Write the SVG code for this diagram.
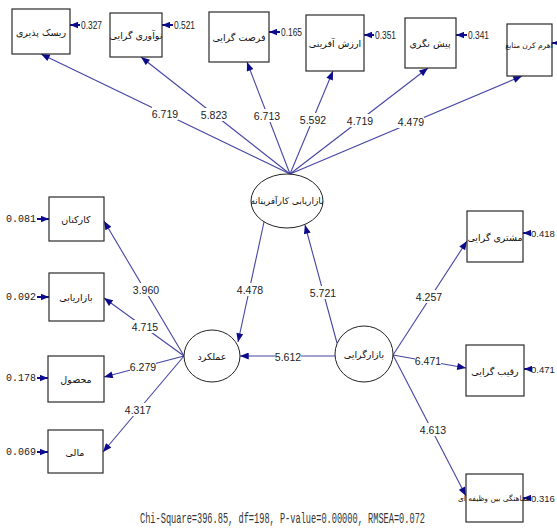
<svg xmlns="http://www.w3.org/2000/svg" width="557" height="531" viewBox="0 0 557 531">
<defs>
  <marker id="head" viewBox="0 0 10 8" refX="10" refY="4" markerWidth="10" markerHeight="7" markerUnits="userSpaceOnUse" orient="auto">
    <path d="M0,0 L10,4 L0,8 z" fill="#0b0b8c"/>
  </marker>
  <marker id="ehead" viewBox="0 0 10 8" refX="10" refY="4" markerWidth="8" markerHeight="7" markerUnits="userSpaceOnUse" orient="auto">
    <path d="M0,0 L10,4 L0,8 z" fill="#0b0b8c"/>
  </marker>
</defs>
<style>
  .box{fill:#fff;stroke:#2a2a2a;stroke-width:1.2}
  .lat{fill:#fff;stroke:#222;stroke-width:1}
  .fa{font-family:"DejaVu Sans",sans-serif;font-size:9.5px;fill:#111;text-anchor:middle;dominant-baseline:central}
  .fs{font-size:7.5px}
  .fm{font-size:9px}
  .path{stroke:#4444a4;stroke-width:1.1;fill:none;marker-end:url(#head)}
  .err{stroke:#0b0b8c;stroke-width:2;fill:none;marker-end:url(#ehead)}
  .coef{font-family:"Liberation Sans Narrow","Liberation Sans",sans-serif;font-size:10.5px;fill:#222;text-anchor:middle;dominant-baseline:central}
  .bg{fill:#fff}
  .ev{font-family:"Liberation Mono",monospace;font-size:10px;fill:#222;dominant-baseline:central}
  .evn{font-family:"Liberation Sans",sans-serif;font-size:10.5px;fill:#222;dominant-baseline:central}
  .evs{font-family:"Liberation Sans",sans-serif;font-size:9.5px;fill:#222;dominant-baseline:central}
  .evr{text-anchor:end}
  .fit{font-family:"Liberation Mono",monospace;font-size:15px;fill:#333}
</style>
<rect width="557" height="531" fill="#fff"/>

<!-- paths, error arrows and coefficient labels -->
<g id="connectors">
  <!-- entrepreneurial marketing -> its indicators -->
  <path class="path" d="M290,174 L41,54"/>
  <path class="path" d="M290,174 L141,57"/>
  <path class="path" d="M290,174 L247,62"/>
  <path class="path" d="M290,174 L333,71"/>
  <path class="path" d="M290,174 L428,68"/>
  <path class="path" d="M290,174 L522,76"/>
  <!-- performance -> its indicators -->
  <path class="path" d="M184,356 L104,221"/>
  <path class="path" d="M184,356 L104,298"/>
  <path class="path" d="M184,356 L104,377"/>
  <path class="path" d="M184,356 L103,452"/>
  <!-- structural paths -->
  <path class="path" d="M264,222 L238,342"/>
  <path class="path" d="M337,343 L305,225"/>
  <path class="path" d="M335,356 L240,356"/>
  <!-- market orientation -> its indicators -->
  <path class="path" d="M393,355 L467,241"/>
  <path class="path" d="M393,355 L466,368"/>
  <path class="path" d="M393,355 L466,496"/>

  <!-- error variances -->
  <path class="err" d="M80,25 L70,25"/>
  <path class="err" d="M173,25 L162,25"/>
  <path class="err" d="M280,32 L269,32"/>
  <path class="err" d="M374,35 L364,35"/>
  <path class="err" d="M467,35 L456,35"/>
  <path class="err" d="M562,43 L552,43"/>
  <path class="err" d="M37,219 L49,219"/>
  <path class="err" d="M37,297 L49,297"/>
  <path class="err" d="M37,378 L48,378"/>
  <path class="err" d="M37,452 L48,452"/>
  <path class="err" d="M530,233 L523,233"/>
  <path class="err" d="M530,369 L524,369"/>
  <path class="err" d="M530,498 L523,498"/>

  <text class="evn" x="81" y="25" textLength="21" lengthAdjust="spacingAndGlyphs">0.327</text>
  <text class="evn" x="174" y="25" textLength="21" lengthAdjust="spacingAndGlyphs">0.521</text>
  <text class="evn" x="281" y="32" textLength="21" lengthAdjust="spacingAndGlyphs">0.165</text>
  <text class="evn" x="375" y="35" textLength="21" lengthAdjust="spacingAndGlyphs">0.351</text>
  <text class="evn" x="468" y="35" textLength="21" lengthAdjust="spacingAndGlyphs">0.341</text>
  <text class="ev evr" x="36" y="219">0.081</text>
  <text class="ev evr" x="36" y="297">0.092</text>
  <text class="ev evr" x="36" y="378">0.178</text>
  <text class="ev evr" x="36" y="452">0.069</text>
  <text class="evs" x="531" y="233">0.418</text>
  <text class="evs" x="531" y="369">0.471</text>
  <text class="evs" x="531" y="498">0.316</text>

  <!-- coefficient labels -->
  <g>
    <rect class="bg" x="152" y="107" width="26" height="13"/><text class="coef" x="165" y="114">6.719</text>
    <rect class="bg" x="201" y="108" width="26" height="13"/><text class="coef" x="214" y="115">5.823</text>
    <rect class="bg" x="254" y="109" width="26" height="13"/><text class="coef" x="267" y="116">6.713</text>
    <rect class="bg" x="300" y="113" width="26" height="13"/><text class="coef" x="313" y="120">5.592</text>
    <rect class="bg" x="347" y="114" width="26" height="13"/><text class="coef" x="360" y="121">4.719</text>
    <rect class="bg" x="398" y="115" width="26" height="13"/><text class="coef" x="411" y="122">4.479</text>
    <rect class="bg" x="133" y="283" width="26" height="13"/><text class="coef" x="146" y="290">3.960</text>
    <rect class="bg" x="132" y="320" width="26" height="13"/><text class="coef" x="145" y="327">4.715</text>
    <rect class="bg" x="130" y="360" width="26" height="13"/><text class="coef" x="143" y="367">6.279</text>
    <rect class="bg" x="125" y="403" width="26" height="13"/><text class="coef" x="138" y="410">4.317</text>
    <rect class="bg" x="237" y="283" width="26" height="13"/><text class="coef" x="250" y="290">4.478</text>
    <rect class="bg" x="310" y="286" width="26" height="13"/><text class="coef" x="323" y="293">5.721</text>
    <rect class="bg" x="275" y="350" width="26" height="13"/><text class="coef" x="288" y="357">5.612</text>
    <rect class="bg" x="416" y="290" width="26" height="13"/><text class="coef" x="429" y="297">4.257</text>
    <rect class="bg" x="415" y="354" width="26" height="13"/><text class="coef" x="428" y="361">6.471</text>
    <rect class="bg" x="420" y="423" width="26" height="13"/><text class="coef" x="433" y="430">4.613</text>
  </g>
</g>

<!-- latent variables -->
<g id="em">
  <ellipse class="lat" cx="287" cy="201" rx="36" ry="27"/>
  <text class="fa fm" x="287" y="201">بازاریابی کارآفرینانه</text>
</g>
<g id="perf">
  <ellipse class="lat" cx="212" cy="356" rx="28" ry="26"/>
  <text class="fa" x="212" y="356">عملکرد</text>
</g>
<g id="mo">
  <ellipse class="lat" cx="364" cy="354" rx="29" ry="28"/>
  <text class="fa" x="364" y="354">بازارگرایی</text>
</g>

<!-- entrepreneurial marketing indicators -->
<g id="risk"><rect class="box" x="12" y="9" width="58" height="45"/><text class="fa" x="41" y="32">ریسک پذیری</text></g>
<g id="innov"><rect class="box" x="110" y="13" width="52" height="44"/><text class="fa" x="136" y="35">نوآوری گرایی</text></g>
<g id="opport"><rect class="box" x="209" y="12" width="60" height="50"/><text class="fa" x="239" y="37">فرصت گرایی</text></g>
<g id="value"><rect class="box" x="306" y="15" width="58" height="56"/><text class="fa" x="335" y="43">ارزش آفرینی</text></g>
<g id="proact"><rect class="box" x="405" y="18" width="51" height="50"/><text class="fa" x="430" y="43">پیش نگری</text></g>
<g id="leverage"><rect class="box" x="507" y="24" width="45" height="52"/><text class="fa fs" x="529" y="45">اهرم کرن منابع</text></g>

<!-- performance indicators -->
<g id="staff"><rect class="box" x="49" y="197" width="55" height="44"/><text class="fa" x="76" y="219">کارکنان</text></g>
<g id="marketing"><rect class="box" x="49" y="273" width="55" height="48"/><text class="fa" x="76" y="297">بازاریابی</text></g>
<g id="product"><rect class="box" x="48" y="356" width="56" height="46"/><text class="fa" x="76" y="379">محصول</text></g>
<g id="finance"><rect class="box" x="48" y="430" width="55" height="43"/><text class="fa" x="75" y="452">مالی</text></g>

<!-- market orientation indicators -->
<g id="customer"><rect class="box" x="467" y="211" width="56" height="51"/><text class="fa" x="495" y="237">مشتری گرایی</text></g>
<g id="competitor"><rect class="box" x="466" y="345" width="58" height="51"/><text class="fa" x="495" y="371">رقیب گرایی</text></g>
<g id="coord"><rect class="box" x="466" y="474" width="57" height="48"/><text class="fa fs" x="494" y="498">هماهنگی بین وظیفه ای</text></g>

<!-- fit statistics, horizontally condensed -->
<text class="fit" transform="translate(140,523) scale(0.576,1)" x="0" y="0">Chi-Square=396.85, df=198, P-value=0.00000, RMSEA=0.072</text>
</svg>
